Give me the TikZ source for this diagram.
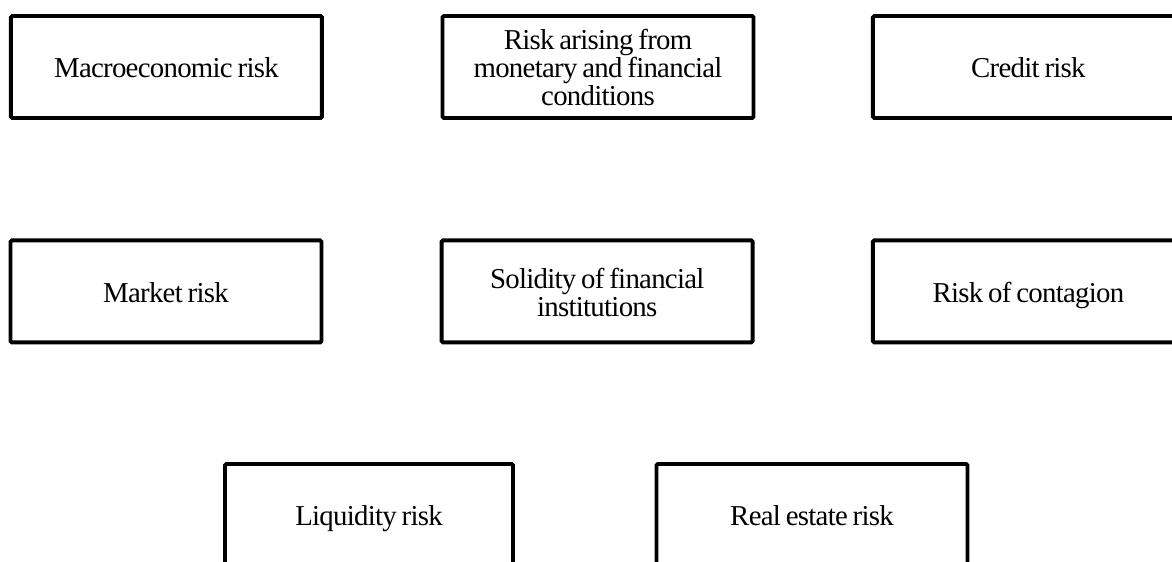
\documentclass[tikz,border=0pt]{standalone}
\usepackage{fontspec}
\setmainfont{Liberation Serif}[LetterSpace=-2.5]
\usetikzlibrary{shapes}
\newcommand{\topstrut}{\rule{0pt}{20pt}}
\newcommand{\bottomstrut}{\rule[-4.6pt]{0pt}{0pt}}
\newcommand{\tightwords}{\spaceskip=0.17em\relax\topstrut}

\begin{document}
\begin{tikzpicture}
\tikzset{
	riskbox/.style={draw,
		shape=rectangle,
		line width=2.8pt,
		rounded corners=1pt,
		minimum width=7.775cm,
		minimum height=2.55cm,
		text width=7.2cm,
		align=center,
		inner sep=0pt,
		font=\fontsize{20.5}{19.8}\selectfont,
		execute at begin node=\tightwords,
		execute at end node=\bottomstrut
}}

\useasboundingbox (0,0) rectangle (29.3,14.025);
\clip (0,0) rectangle (29.3,14.025);

\node[riskbox] (MacroRisk) at (4.16,12.35) {Macroeconomic risk};
\node[riskbox] (MonetaryRisk) at (14.95,12.35) {Risk arising from\\ monetary and financial\\ conditions};
\node[riskbox] (CreditRisk) at (25.71,12.35) {Credit risk};

\node[riskbox] (MarketRisk) at (4.15,6.74) {Market risk};
\node[riskbox] (Solidity) at (14.93,6.74) {Solidity of financial\\ institutions};
\node[riskbox] (Contagion) at (25.71,6.74) {Risk of contagion};

\node[riskbox, minimum width=7.2cm] (LiquidityRisk) at (9.225,1.15) {Liquidity risk};
\node[riskbox] (RealEstateRisk) at (20.3,1.15) {Real estate risk};
\end{tikzpicture}
\end{document}
